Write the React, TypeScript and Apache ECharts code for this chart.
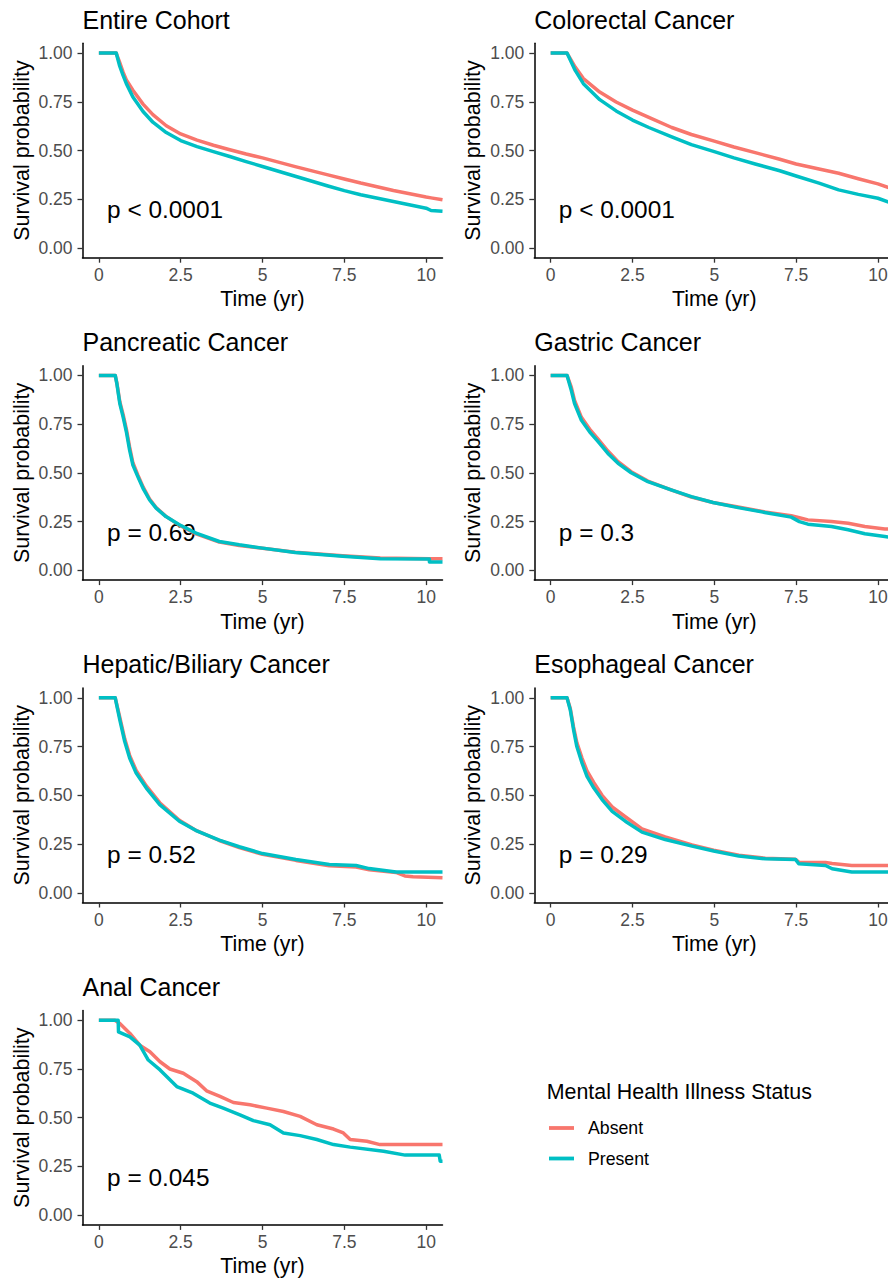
import React, { useEffect, useRef } from "react";
import * as echarts from "echarts";

const RED = "#F8766D";
const TEAL = "#00BFC4";
const FONT = "'Liberation Sans', Arial, Helvetica, sans-serif";

const groups = ["Absent", "Present"];
const legendTitle = "Mental Health Illness Status";
const xAxisTitle = "Time (yr)";
const yAxisTitle = "Survival probability";

const xTicks = [0, 2.5, 5, 7.5, 10];
const xTickLabels = ["0", "2.5", "5", "7.5", "10"];
const yTicks = [0, 0.25, 0.5, 0.75, 1];
const yTickLabels = ["0.00", "0.25", "0.50", "0.75", "1.00"];

const panelTitles = [
  "Entire Cohort",
  "Colorectal Cancer",
  "Pancreatic Cancer",
  "Gastric Cancer",
  "Hepatic/Biliary Cancer",
  "Esophageal Cancer",
  "Anal Cancer",
];
const pValues = ["p < 0.0001", "p < 0.0001", "p = 0.69", "p = 0.3", "p = 0.52", "p = 0.29", "p = 0.045"];

// Entire cohort
const cohortT = [0, 0.53, 0.63, 0.74, 0.84, 1.04, 1.35, 1.65, 2.06, 2.5, 3, 3.5, 4, 4.5, 5, 6, 7, 7.5, 8, 9, 10, 10.15, 10.5];
const cohortAbsent = [1, 1, 0.955, 0.902, 0.862, 0.809, 0.738, 0.684, 0.627, 0.585, 0.553, 0.527, 0.504, 0.482, 0.462, 0.417, 0.375, 0.354, 0.333, 0.295, 0.261, 0.257, 0.247];
const cohortPresent = [1, 1, 0.937, 0.885, 0.843, 0.775, 0.7, 0.645, 0.592, 0.551, 0.52, 0.494, 0.469, 0.443, 0.418, 0.368, 0.318, 0.294, 0.273, 0.238, 0.204, 0.192, 0.188];

// Colorectal
const crcT = [0, 0.5, 0.75, 1, 1.5, 2, 2.5, 3, 3.7, 4.3, 5, 5.6, 6.25, 7, 7.5, 8.2, 8.8, 9.4, 10, 10.5];
const crcAbsent = [1, 1, 0.928, 0.869, 0.8, 0.749, 0.707, 0.67, 0.618, 0.582, 0.548, 0.518, 0.489, 0.455, 0.431, 0.405, 0.383, 0.355, 0.329, 0.3];
const crcPresent = [1, 1, 0.911, 0.843, 0.761, 0.703, 0.656, 0.618, 0.57, 0.53, 0.494, 0.462, 0.431, 0.396, 0.369, 0.333, 0.298, 0.275, 0.255, 0.225];

// Pancreatic
const pancT = [0, 0.5, 0.55, 0.64, 0.74, 0.84, 0.94, 1.04, 1.19, 1.35, 1.55, 1.75, 2.05, 2.46, 2.97, 3.68, 4.29, 5, 6, 7.45, 8.6, 10.1, 10.1, 10.5];
const pancAbsent = [1, 1, 0.962, 0.865, 0.8, 0.725, 0.632, 0.552, 0.49, 0.428, 0.366, 0.322, 0.277, 0.232, 0.187, 0.145, 0.128, 0.113, 0.093, 0.075, 0.063, 0.06, 0.06, 0.06];
const pancPresent = [1, 1, 0.958, 0.856, 0.787, 0.711, 0.617, 0.54, 0.481, 0.421, 0.361, 0.319, 0.276, 0.234, 0.191, 0.148, 0.131, 0.114, 0.092, 0.072, 0.06, 0.058, 0.043, 0.043];

// Gastric
const gasT = [0, 0.5, 0.63, 0.73, 0.94, 1.19, 1.45, 1.75, 2.06, 2.46, 2.97, 3.68, 4.3, 4.96, 5.73, 6.54, 7.35, 7.6, 7.86, 8.58, 9.09, 9.6, 10.21, 10.5];
const gasAbsent = [1, 1, 0.94, 0.872, 0.785, 0.725, 0.673, 0.612, 0.558, 0.506, 0.458, 0.413, 0.376, 0.348, 0.325, 0.3, 0.28, 0.27, 0.259, 0.251, 0.242, 0.225, 0.212, 0.212];
const gasPresent = [1, 1, 0.924, 0.856, 0.77, 0.711, 0.66, 0.6, 0.549, 0.501, 0.455, 0.413, 0.378, 0.348, 0.322, 0.297, 0.273, 0.25, 0.237, 0.225, 0.208, 0.188, 0.174, 0.165];

// Hepatic / Biliary
const hepT = [0, 0.5, 0.64, 0.79, 0.94, 1.14, 1.45, 1.86, 2.46, 2.97, 3.68, 4.29, 5, 6.02, 7.04, 7.86, 8.26, 9.08, 9.35, 9.6, 10.5];
const hepAbsent = [1, 1, 0.9, 0.79, 0.705, 0.627, 0.548, 0.462, 0.372, 0.32, 0.268, 0.232, 0.197, 0.166, 0.139, 0.132, 0.118, 0.104, 0.086, 0.082, 0.077];
const hepPresent = [1, 1, 0.887, 0.776, 0.691, 0.614, 0.537, 0.452, 0.367, 0.319, 0.27, 0.236, 0.201, 0.171, 0.145, 0.14, 0.124, 0.106, 0.106, 0.106, 0.106];

// Esophageal
const esoT = [0, 0.5, 0.6, 0.7, 0.8, 0.96, 1.11, 1.32, 1.57, 1.88, 2.28, 2.79, 3.5, 4.32, 4.98, 5.75, 6.56, 7.48, 7.58, 8.4, 8.6, 9.2, 10.5];
const esoAbsent = [1, 1, 0.945, 0.85, 0.77, 0.69, 0.625, 0.565, 0.5, 0.44, 0.39, 0.328, 0.287, 0.245, 0.218, 0.192, 0.177, 0.172, 0.157, 0.155, 0.15, 0.14, 0.14];
const esoPresent = [1, 1, 0.938, 0.836, 0.75, 0.665, 0.597, 0.537, 0.478, 0.418, 0.367, 0.311, 0.273, 0.239, 0.214, 0.188, 0.174, 0.171, 0.149, 0.14, 0.123, 0.106, 0.106];

// Anal
const analAbsentT = [0, 0.49, 0.64, 0.95, 1.25, 1.56, 1.87, 2.17, 2.58, 2.99, 3.29, 3.7, 4.11, 4.62, 5.13, 5.64, 6.15, 6.66, 7.17, 7.47, 7.68, 8.19, 8.59, 10.5];
const analAbsent = [1, 1, 0.983, 0.932, 0.872, 0.838, 0.787, 0.75, 0.728, 0.685, 0.638, 0.609, 0.578, 0.566, 0.549, 0.532, 0.507, 0.464, 0.442, 0.422, 0.388, 0.379, 0.362, 0.362];
const analPresentT = [0, 0.59, 0.6, 0.95, 1.25, 1.51, 1.87, 2.38, 2.88, 3.39, 3.8, 4.31, 4.72, 5.23, 5.64, 6.15, 6.66, 7.17, 7.68, 8.7, 9.36, 10.4, 10.43, 10.5];
const analPresent = [1, 1, 0.94, 0.915, 0.872, 0.796, 0.745, 0.66, 0.626, 0.575, 0.549, 0.515, 0.485, 0.464, 0.422, 0.408, 0.388, 0.362, 0.349, 0.328, 0.308, 0.308, 0.277, 0.277];

const panelData = [
  [cohortT, cohortAbsent, cohortT, cohortPresent],
  [crcT, crcAbsent, crcT, crcPresent],
  [pancT, pancAbsent, pancT, pancPresent],
  [gasT, gasAbsent, gasT, gasPresent],
  [hepT, hepAbsent, hepT, hepPresent],
  [esoT, esoAbsent, esoT, esoPresent],
  [analAbsentT, analAbsent, analPresentT, analPresent],
];

const X_MIN = -0.5, X_MAX = 10.5, Y_MIN = -0.05, Y_MAX = 1.05;
const COL_LEFT = [82.5, 534.3];
const ROW_TOP0 = 43.3, ROW_STEP = 322.4;
const GRID_W = 360, GRID_H = 214.4;

function zip(t: number[], v: number[]) {
  return t.map((x, i) => [x, v[i]]);
}
function labelFor(ticks: number[], labels: string[]) {
  return (v: number) => {
    const i = ticks.findIndex((t) => Math.abs(t - v) < 1e-9);
    return i >= 0 ? labels[i] : String(v);
  };
}

export default function App() {
  const ref = useRef<HTMLDivElement>(null);
  useEffect(() => {
    if (!ref.current) return;
    const chart = echarts.init(ref.current, null, { renderer: "svg" });
    const grids: any[] = [], xAxes: any[] = [], yAxes: any[] = [], series: any[] = [], graphics: any[] = [];
    const pxPerY = GRID_H / (Y_MAX - Y_MIN);
    const pxPerX = GRID_W / (X_MAX - X_MIN);
    panelTitles.forEach((title, i) => {
      const left = COL_LEFT[i % 2];
      const top = ROW_TOP0 + Math.floor(i / 2) * ROW_STEP;
      grids.push({ left, top, width: GRID_W, height: GRID_H, containLabel: false, outerBoundsMode: "none" });
      xAxes.push({
        gridIndex: i, type: "value", min: X_MIN, max: X_MAX,
        axisLine: { show: true, onZero: false, lineStyle: { color: "#000", width: 1.5 } },
        axisTick: { show: true, length: 5, customValues: xTicks, lineStyle: { color: "#333", width: 1.3 } },
        axisLabel: { show: true, customValues: xTicks, formatter: labelFor(xTicks, xTickLabels), color: "#4D4D4D", fontSize: 17.5, fontFamily: FONT, margin: 8 },
        splitLine: { show: false },
        name: xAxisTitle, nameLocation: "middle", nameGap: 31, nameMoveOverlap: false,
        nameTextStyle: { fontSize: 21.3, color: "#000", fontFamily: FONT },
      });
      yAxes.push({
        gridIndex: i, type: "value", min: Y_MIN, max: Y_MAX,
        axisLine: { show: true, onZero: false, lineStyle: { color: "#000", width: 1.5 } },
        axisTick: { show: true, length: 5, customValues: yTicks, lineStyle: { color: "#333", width: 1.3 } },
        axisLabel: { show: true, customValues: yTicks, formatter: labelFor(yTicks, yTickLabels), color: "#4D4D4D", fontSize: 17.5, fontFamily: FONT, margin: 10 },
        splitLine: { show: false },
        name: yAxisTitle, nameLocation: "middle", nameRotate: 90, nameGap: 50, nameMoveOverlap: false,
        nameTextStyle: { fontSize: 21.5, color: "#000", fontFamily: FONT },
      });
      const [tA, vA, tP, vP] = panelData[i];
      [[tA, vA, RED, groups[0]], [tP, vP, TEAL, groups[1]]].forEach(([t, v, color, name]: any) => {
        series.push({
          type: "line", name, xAxisIndex: i, yAxisIndex: i, data: zip(t, v),
          symbol: "none", showSymbol: false, clip: true, smooth: false,
          lineStyle: { color, width: 3.5, join: "round" }, itemStyle: { color },
          emphasis: { disabled: true },
        });
      });
      graphics.push({
        type: "text", x: left, y: top - 23.8,
        style: { text: title, fontSize: 25, fontFamily: FONT, fill: "#000", align: "left", verticalAlign: "middle" },
      });
      graphics.push({
        type: "text", x: left + (0.25 - X_MIN) * pxPerX, y: top + (Y_MAX - 0.2) * pxPerY + 1,
        style: { text: pValues[i], fontSize: 24.4, fontFamily: FONT, fill: "#000", align: "left", verticalAlign: "middle" },
      });
    });
    // legend
    graphics.push({
      type: "text", x: 546.7, y: 1092.2,
      style: { text: legendTitle, fontSize: 21.4, fontFamily: FONT, fill: "#000", align: "left", verticalAlign: "middle" },
    });
    [[groups[0], RED, 1128], [groups[1], TEAL, 1158.5]].forEach(([name, color, y]: any) => {
      graphics.push({ type: "line", shape: { x1: 549, y1: y, x2: 574, y2: y }, style: { stroke: color, lineWidth: 3.8 } });
      graphics.push({
        type: "text", x: 588, y: y,
        style: { text: name, fontSize: 17.7, fontFamily: FONT, fill: "#000", align: "left", verticalAlign: "middle" },
      });
    });

    chart.setOption({
      animation: false,
      backgroundColor: "#fff",
      textStyle: { fontFamily: FONT },
      grid: grids, xAxis: xAxes, yAxis: yAxes, series, graphic: graphics,
      tooltip: { show: false },
    });
    return () => chart.dispose();
  }, []);
  return <div ref={ref} style={{ position: "absolute", left: 0, top: 0, width: 888, height: 1278 }} />;
}
